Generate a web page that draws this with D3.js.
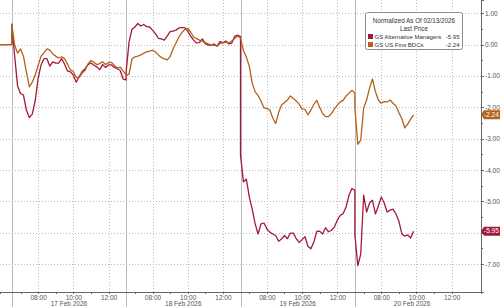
<!DOCTYPE html>
<html lang="en">
<head>
<meta charset="UTF-8">
<title>GS Alternative Managers vs GS US Fins BDCs</title>
<script src="https://d3js.org/d3.v7.min.js"></script>
<style>
body{margin:0;background:#fff;}
svg{display:block;font-family:"Liberation Sans",Arial,sans-serif;}
.grid line{stroke:#bdbdbd;stroke-dasharray:1,2;shape-rendering:crispEdges;}
.sep{stroke:#bcbcbc;shape-rendering:crispEdges;}
.axis path,.axis line{stroke:#666;shape-rendering:crispEdges;}
.axis text{fill:#555;font-size:6.5px;font-family:"Liberation Sans",Arial,sans-serif;}
.day{fill:#555;font-size:6.5px;text-anchor:middle;}
.legend text{font-size:6px;fill:#333;}
.legend .ttl{font-size:6.3px;}
</style>
</head>
<body>
<script>
// sessions: tail of 13 Feb, then 17-20 Feb (16 Feb was a holiday)
var sessionDates = ["13 Feb 2026", "17 Feb 2026", "18 Feb 2026", "19 Feb 2026", "20 Feb 2026"];
var firstBar = ["12:20", "06:30", "06:30", "06:30", "06:30"];
var stepMin = 10;

// GS Alternative Managers, normalized, one array per session
var altManagers = [
  [0, 0, 0, 0, 0],
  [0.65,-0.37,-1.32,-1.56,-1.61,-2.09,-2.33,-2.22,-1.80,-1.08,-0.65,-0.45,-0.45,-0.69,-0.55,-0.59,-0.59,-0.45,-0.62,-0.84,
   -0.87,-0.97,-1.20,-1.02,-0.86,-0.77,-0.64,-0.59,-0.66,-0.71,-0.80,-0.64,-0.73,-0.65,-0.65,-0.73,-0.77,-0.83,-1.10,-1.13],
  [-0.88,0.08,0.49,0.56,0.67,0.59,0.64,0.57,0.56,0.46,0.35,0.20,0.18,0.14,0.27,0.41,0.43,0.46,0.53,0.54,
   0.54,0.43,0.27,0.14,0.05,0.06,0.18,0.03,-0.02,-0.03,0.02,-0.05,0.09,0.06,0.11,0.02,0.04,0.26,0.30,0.25],
  [-3.52,-4.38,-4.29,-4.86,-5.25,-5.72,-6.04,-5.72,-5.69,-5.88,-5.98,-6.04,-6.09,-6.27,-6.20,-6.09,-6.19,-6.01,-6.01,-6.19,
   -6.31,-6.22,-6.13,-6.43,-6.51,-6.30,-5.96,-5.95,-6.04,-5.84,-5.97,-5.92,-5.82,-5.60,-5.45,-5.39,-5.18,-4.80,-4.59,-4.64],
  [-6.07,-7.05,-6.68,-4.80,-5.34,-5.05,-4.96,-5.40,-5.15,-4.86,-5.05,-5.34,-5.28,-5.25,-5.40,-5.63,-6.03,-6.11,-6.07,-6.17,-5.95]
];

// GS US Fins BDCs, normalized
var usFinsBdcs = [
  [0, 0, 0, 0, 0],
  [0.65,-0.02,-0.27,-0.14,-0.37,-0.88,-1.35,-1.20,-0.97,-0.67,-0.37,-0.26,-0.14,-0.18,-0.30,-0.37,-0.43,-0.39,-0.45,-0.62,
   -0.81,-0.86,-1.05,-1.05,-0.91,-0.83,-0.62,-0.51,-0.57,-0.64,-0.61,-0.55,-0.64,-0.57,-0.57,-0.67,-0.75,-0.72,-0.85,-0.97],
  [-1.00,-0.94,-0.46,-0.39,-0.37,-0.33,-0.28,-0.23,-0.21,-0.18,-0.24,-0.33,-0.41,-0.46,-0.49,-0.38,-0.14,0.05,0.24,0.38,
   0.48,0.51,0.40,0.24,0.19,0.14,0.11,0.06,0.02,-0.02,-0.02,-0.05,0.03,0.05,0.08,0.05,0.11,0.19,0.27,0.21],
  [0.21,-0.19,-0.40,-0.69,-1.23,-1.51,-1.63,-1.80,-2.02,-2.04,-2.09,-2.34,-2.52,-2.17,-1.93,-1.85,-1.77,-1.64,-1.72,-1.80,
   -1.90,-2.06,-2.07,-2.24,-2.09,-1.91,-1.78,-2.01,-2.20,-2.30,-2.30,-2.20,-2.05,-1.93,-1.83,-1.78,-1.64,-1.55,-1.46,-1.55],
  [-2.02,-3.18,-3.05,-2.02,-1.77,-1.39,-1.10,-1.50,-1.77,-1.87,-1.82,-1.83,-1.77,-1.87,-1.96,-2.17,-2.36,-2.66,-2.54,-2.38,-2.24]
];

var seriesNames = ["GS Alternative Managers", "GS US Fins BDCs"];
var lastValues = [-5.95, -2.24];
var seriesColors = ["#a3193b", "#b2621c"];

var hourLabels = ["08:00", "10:00", "12:00"];
var minorHours = ["07:00", "09:00", "11:00"];
var yTicks = [1, 0, -1, -2, -3, -4, -5, -6, -7];
var yHidden = [-6]; // covered by the last-price tag in the original
var yMinor = [0.5, -0.5, -1.5, -2.5, -3.5, -4.5, -5.5, -6.5];

var width = 500, height = 307;
var plot = {left: 0, right: 481, top: 0, bottom: 292};
var sessionLen = 390; // 06:30 - 13:00

function fromOpen(hhmm) {
  var p = hhmm.split(":");
  return (+p[0]) * 60 + (+p[1]) - 390;
}
function clock(t) {
  var m = ((t % sessionLen) + sessionLen) % sessionLen + 390;
  return d3.format("02")(Math.floor(m / 60)) + ":" + d3.format("02")(m % 60);
}

function toPoints(days) {
  var pts = [];
  days.forEach(function(vals, i) {
    var start = (i - 1) * sessionLen + fromOpen(firstBar[i]);
    vals.forEach(function(v, j) { pts.push({t: start + j * stepMin, v: v}); });
  });
  return pts;
}

var svg = d3.select("body").append("svg")
  .attr("width", width).attr("height", height);

var x = d3.scaleLinear().domain([-40, 1600]).range([plot.left, plot.right]);
var y = d3.scaleLinear().domain([-7.89, 1.42]).range([plot.bottom, plot.top]);

// tick positions per session
var majorT = [], minorT = [], sepT = [];
for (var i = 1; i < sessionDates.length; i++) {
  var off = (i - 1) * sessionLen;
  sepT.push(off);
  hourLabels.forEach(function(h) { majorT.push(off + fromOpen(h)); });
  minorHours.forEach(function(h) { minorT.push(off + fromOpen(h)); });
}

// grid
var grid = svg.append("g").attr("class", "grid");
grid.selectAll(".gv").data(majorT).enter().append("line")
  .attr("x1", function(d){ return Math.round(x(d)) + 0.5; })
  .attr("x2", function(d){ return Math.round(x(d)) + 0.5; })
  .attr("y1", plot.top).attr("y2", plot.bottom);
grid.selectAll(".gh").data(yTicks).enter().append("line")
  .attr("x1", plot.left).attr("x2", plot.right)
  .attr("y1", function(d){ return Math.round(y(d)) + 0.5; })
  .attr("y2", function(d){ return Math.round(y(d)) + 0.5; });

// day separators
svg.selectAll(".sep").data(sepT).enter().append("line")
  .attr("class", "sep")
  .attr("x1", function(d){ return Math.round(x(d)) + 0.5; })
  .attr("x2", function(d){ return Math.round(x(d)) + 0.5; })
  .attr("y1", plot.top).attr("y2", height);

// lines
var line = d3.line().x(function(d){ return x(d.t); }).y(function(d){ return y(d.v); });
var allSeries = [altManagers, usFinsBdcs];
allSeries.forEach(function(s, k) {
  svg.append("path")
    .datum(toPoints(s))
    .attr("fill", "none")
    .attr("stroke", seriesColors[k])
    .attr("stroke-width", 1.3)
    .attr("stroke-linejoin", "round")
    .attr("d", line);
});

// x axis
var xAxis = d3.axisBottom(x).tickValues(majorT).tickSize(2).tickPadding(1)
  .tickFormat(function(d){ return clock(d); });
svg.append("g").attr("class", "axis")
  .attr("transform", "translate(0," + plot.bottom + ")")
  .call(xAxis);
svg.append("g").attr("class", "axis")
  .attr("transform", "translate(0," + plot.bottom + ")")
  .call(d3.axisBottom(x).tickValues(minorT).tickSize(2).tickFormat(""))
  .select(".domain").remove();

svg.selectAll(".day").data(sessionDates.slice(1)).enter().append("text")
  .attr("class", "day")
  .attr("x", function(d, i){ return x(i * sessionLen + sessionLen / 2); })
  .attr("y", 305.5)
  .text(function(d){ return d; });

// y axis
var yAxis = d3.axisRight(y).tickValues(yTicks).tickSize(3).tickPadding(1)
  .tickFormat(function(d){ return yHidden.indexOf(d) >= 0 ? "" : d.toFixed(2); });
svg.append("g").attr("class", "axis")
  .attr("transform", "translate(" + plot.right + ",0)")
  .call(yAxis);
svg.append("g").attr("class", "axis")
  .attr("transform", "translate(" + plot.right + ",0)")
  .call(d3.axisRight(y).tickValues(yMinor).tickSize(2).tickFormat(""))
  .select(".domain").remove();

// last value tags
lastValues.forEach(function(v, k) {
  var yv = y(v);
  var g = svg.append("g");
  g.append("path")
    .attr("d", "M" + plot.right + "," + yv + "L" + (plot.right + 3) + "," + (yv - 4.5) +
      "H" + 502 + "V" + (yv + 4.5) + "H" + (plot.right + 3) + "Z")
    .attr("fill", seriesColors[k]);
  g.append("text")
    .attr("x", plot.right + 3).attr("y", yv + 2.3)
    .attr("fill", "#fff").style("font-size", "6.5px")
    .text(v.toFixed(2));
});

// legend
var lg = svg.append("g").attr("class", "legend").attr("transform", "translate(365,12)");
lg.append("rect").attr("x", 0.5).attr("y", 0.5).attr("width", 97).attr("height", 37)
  .attr("rx", 2).attr("fill", "#fff").attr("stroke", "#8c8c8c");
lg.append("text").attr("class", "ttl").attr("x", 49).attr("y", 10.5).attr("text-anchor", "middle")
  .text("Normalized As Of 02/13/2026");
lg.append("text").attr("class", "ttl").attr("x", 49).attr("y", 18.5).attr("text-anchor", "middle")
  .text("Last Price");
seriesNames.forEach(function(n, k) {
  var yy = 22.5 + k * 8;
  lg.append("rect").attr("x", 3).attr("y", yy - 0.5).attr("width", 5).attr("height", 5)
    .attr("fill", seriesColors[k]);
  lg.append("text").attr("x", 9.5).attr("y", yy + 4.2).text(n);
  lg.append("text").attr("x", 94.5).attr("y", yy + 4.2).attr("text-anchor", "end")
    .text(lastValues[k].toFixed(2));
});
</script>
</body>
</html>
